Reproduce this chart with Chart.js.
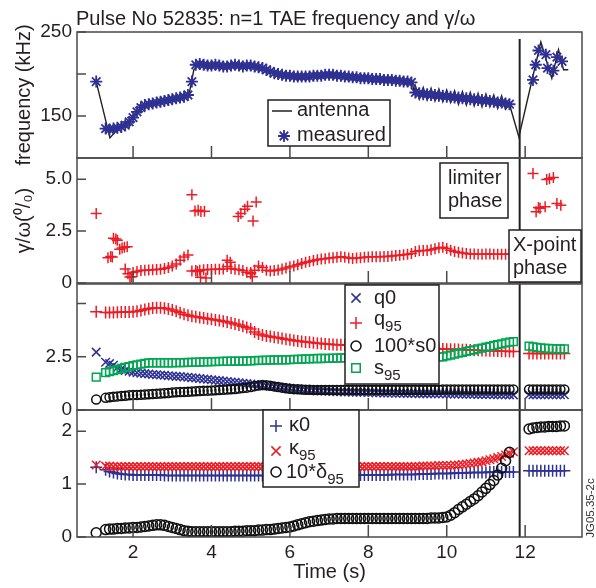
<!DOCTYPE html>
<html>
<head>
<meta charset="utf-8">
<script src="https://cdn.jsdelivr.net/npm/chart.js@4.4.1/dist/chart.umd.min.js"></script>
<style>
    html, body { margin: 0; padding: 0; background: #fff; }
    #wrap { position: relative; width: 596px; height: 588px; overflow: hidden; }
    #wrap canvas { position: absolute; left: 0; }
</style>
</head>
<body>
<div id="wrap">
    <canvas id="freqChart" width="596" height="175" style="top:0px"></canvas>
    <canvas id="gammaChart" width="596" height="160" style="top:140px"></canvas>
    <canvas id="qChart" width="596" height="162" style="top:266px"></canvas>
    <canvas id="kappaChart" width="596" height="196" style="top:392px"></canvas>
</div>
<script>
// ---- data ----
const timeTicks = [2, 4, 6, 8, 10, 12]
const phaseSplit = 11.86

const yTicksFreq = [150, 200, 250]
const yLabelsFreq = ['150', '', '250']
const yTicksGamma = [0, 2.5, 5]
const yLabelsGamma = ['0', '2.5', '5.0']
const yTicksQ = [0, 2.5, 5]
const yLabelsQ = ['0', '2.5', '']
const yTicksKappa = [0, 1, 2]
const yLabelsKappa = ['0', '1', '2']

// limiter phase time base (s)
const eqTime = [1.06, 1.3, 1.4, 1.5, 1.6, 1.7, 1.8, 1.9, 2.0, 2.1,
    2.2, 2.3, 2.4, 2.5, 2.6, 2.7, 2.8, 2.9, 3.0, 3.1,
    3.2, 3.3, 3.4, 3.5, 3.6, 3.7, 3.8, 3.9, 4.0, 4.1,
    4.2, 4.3, 4.4, 4.5, 4.6, 4.7, 4.8, 4.9, 5.0, 5.1,
    5.2, 5.3, 5.4, 5.5, 5.6, 5.7, 5.8, 5.9, 6.0, 6.1,
    6.2, 6.3, 6.4, 6.5, 6.6, 6.7, 6.8, 6.9, 7.0, 7.1,
    7.2, 7.3, 7.4, 7.5, 7.6, 7.7, 7.8, 7.9, 8.0, 8.1,
    8.2, 8.3, 8.4, 8.5, 8.6, 8.7, 8.8, 8.9, 9.0, 9.1,
    9.2, 9.3, 9.4, 9.5, 9.6, 9.7, 9.8, 9.9, 10.0, 10.1,
    10.2, 10.3, 10.4, 10.5, 10.6, 10.7, 10.8, 10.9, 11.0, 11.1,
    11.2, 11.3, 11.4, 11.5, 11.6, 11.7]
// X-point phase time base (s)
const xTime = [12.1, 12.2, 12.3, 12.4, 12.5, 12.6, 12.7, 12.8, 12.9, 13.0]

// TAE frequency (kHz)
const freqMeasured = [191, 135, 134, 135, 136, 137, 139, 143, 148, 155,
    160, 163, 164, 165, 166, 167, 168, 169, 170, 171,
    172, 173, 175, 191, 211, 212, 211, 210, 210, 211,
    210, 209, 209, 210, 211, 210, 209, 210, 210, 209,
    208, 207, 205, 203, 201, 200, 199, 198, 198, 197,
    197, 197, 197, 197, 198, 198, 198, 199, 199, 199,
    198, 198, 197, 197, 196, 196, 195, 195, 195, 194,
    194, 194, 193, 193, 193, 192, 192, 191, 191, 190,
    178, 177, 176, 176, 175, 175, 174, 174, 173, 173,
    172, 172, 171, 171, 170, 170, 169, 169, 168, 168,
    167, 166, 166, 165, 164, null]
const freqXTime = [12.2, 12.27, 12.34, 12.53, 12.57, 12.72, 12.81, 12.94]
const freqXMeasured = [193, 211, 228, 223, 207, 204, 220, 215]

const antennaTime = [1.06, 1.41, 1.6, 2.0, 2.3, 3.0, 3.42, 3.55, 3.7, 5.0, 5.6, 6.5, 7.5, 9.0, 9.12, 9.17,
    9.2, 9.3, 9.4, 9.5, 9.6, 9.7, 9.8, 9.9, 10.0, 10.1, 10.2, 10.3, 10.4, 10.5, 10.6, 10.7,
    10.8, 10.9, 11.0, 11.1, 11.2, 11.3, 11.4, 11.5, 11.6, 11.84, 12.4, 12.68, 12.85, 12.98, 13.1]
const antennaFreq = [191, 124, 134, 148, 162, 170, 174, 205, 212, 210, 200, 197, 196, 191, 190, 178,
    186, 170, 184, 169, 183, 168, 182, 167, 181, 166, 180, 164, 179, 163, 178, 162,
    177, 161, 176, 161, 175, 159, 174, 158, 164, 125, 238, 195, 229, 205, 205]

// gamma/omega (%)
const gammaTime = [2.0, 2.1, 2.2, 2.3, 2.4, 2.5, 2.6, 2.7, 2.8, 2.9,
    3.0, 3.1, 3.2, 3.3, 3.4, 3.5, 3.6, 3.7, 3.8, 3.9,
    4.0, 4.1, 4.2, 4.3, 4.4, 4.5, 4.6, 4.7, 4.8, 4.9,
    5.0, 5.1, 5.2, 5.3, 5.4, 5.5, 5.6, 5.7, 5.8, 5.9,
    6.0, 6.1, 6.2, 6.3, 6.4, 6.5, 6.6, 6.7, 6.8, 6.9,
    7.0, 7.1, 7.2, 7.3, 7.4, 7.5, 7.6, 7.7, 7.8, 7.9,
    8.0, 8.1, 8.2, 8.3, 8.4, 8.5, 8.6, 8.7, 8.8, 8.9,
    9.0, 9.1, 9.2, 9.3, 9.4, 9.5, 9.6, 9.7, 9.8, 9.9,
    10.0, 10.1, 10.2, 10.3, 10.4, 10.5, 10.6, 10.7, 10.8, 10.9,
    11.0, 11.1, 11.2, 11.3, 11.4, 11.5, 11.6, 11.7]
const gammaValue = [0.5, 0.55, 0.6, 0.62, 0.63, 0.64, 0.65, 0.66, 0.7, 0.75,
    0.82, 0.92, 1.1, 1.25, 1.35, 0.58, 0.6, 0.62, 0.64, 0.65,
    0.65, 0.66, 0.66, 0.68, 0.8, 0.7, 0.66, 0.64, 0.6, 0.52,
    0.5, 0.62, 0.82, 0.75, 0.62, 0.58, 0.6, 0.63, 0.68, 0.72,
    0.78, 0.82, 0.88, 0.94, 1.0, 1.04, 1.08, 1.12, 1.15, 1.17,
    1.2, 1.22, 1.24, 1.26, 1.24, 1.2, 1.18, 1.2, 1.22, 1.24,
    1.25, 1.26, 1.26, 1.27, 1.28, 1.28, 1.3, 1.32, 1.34, 1.36,
    1.38, 1.42, 1.52, 1.55, 1.57, 1.56, 1.6, 1.65, 1.7, 1.72,
    1.66, 1.58, 1.52, 1.48, 1.44, 1.42, 1.4, 1.4, 1.39, 1.39,
    1.4, 1.4, 1.39, 1.38, 1.39, 1.39, 1.4, 1.4]
const gammaScatterTime = [1.06, 1.36, 1.43, 1.47, 1.5, 1.56, 1.6, 1.66, 1.72, 1.78, 1.85, 1.8, 1.87, 1.92, 1.96,
    3.5, 3.58, 3.66, 3.73, 3.82, 3.64, 3.72, 3.86, 4.4, 4.48,
    4.68, 4.75, 4.85, 4.92, 5.14, 5.06, 5.04, 5.0,
    12.2, 12.55, 12.62, 12.72, 12.28, 12.34, 12.38, 12.51, 12.81, 12.91]
const gammaScatterValue = [3.35, 1.22, 1.28, 1.25, 2.15, 2.12, 2.06, 1.62, 1.68, 1.72, 1.75, 0.68, 0.45, 0.29, 0.3,
    4.25, 3.47, 3.5, 3.44, 3.45, 0.55, 0.28, 0.24, 1.1, 1.0,
    3.2, 3.35, 3.55, 3.7, 3.9, 2.98, 0.3, 0.45,
    5.27, 4.98, 5.02, 5.08, 3.43, 3.64, 3.6, 3.67, 3.83, 3.75]

// safety factor and shear
const q0 = [2.72, 2.24, 2.18, 2.1, 2.0, 1.92, 1.86, 1.82, 1.78, 1.75,
    1.73, 1.71, 1.69, 1.67, 1.66, 1.64, 1.63, 1.61, 1.6, 1.58,
    1.57, 1.55, 1.54, 1.52, 1.5, 1.48, 1.46, 1.44, 1.42, 1.4,
    1.38, 1.36, 1.34, 1.32, 1.3, 1.28, 1.26, 1.24, 1.22, 1.2,
    1.18, 1.16, 1.14, 1.12, 1.1, 1.08, 1.06, 1.04, 1.02, 1.0,
    0.98, 0.96, 0.94, 0.93, 0.92, 0.91, 0.9, 0.89, 0.88, 0.87,
    0.86, 0.86, 0.85, 0.85, 0.84, 0.84, 0.83, 0.83, 0.82, 0.82,
    0.81, 0.81, 0.8, 0.8, 0.8, 0.79, 0.79, 0.79, 0.78, 0.78,
    0.78, 0.77, 0.77, 0.77, 0.76, 0.76, 0.76, 0.76, 0.75, 0.75,
    0.75, 0.75, 0.74, 0.74, 0.74, 0.74, 0.73, 0.73, 0.73, 0.73,
    0.72, 0.72, 0.72, 0.72, 0.71, 0.71]
const q95 = [4.62, 4.58, 4.58, 4.58, 4.59, 4.6, 4.6, 4.61, 4.62, 4.64,
    4.68, 4.72, 4.76, 4.79, 4.81, 4.8, 4.78, 4.75, 4.7, 4.64,
    4.57, 4.5, 4.45, 4.41, 4.38, 4.35, 4.32, 4.29, 4.26, 4.23,
    4.2, 4.17, 4.14, 4.09, 4.04, 3.99, 3.94, 3.88, 3.8, 3.66,
    3.57, 3.52, 3.48, 3.45, 3.42, 3.39, 3.36, 3.33, 3.3, 3.27,
    3.24, 3.22, 3.2, 3.18, 3.16, 3.14, 3.12, 3.1, 3.09, 3.08,
    3.07, 3.06, 3.05, 3.04, 3.03, 3.03, 3.02, 3.02, 3.01, 3.0,
    3.0, 2.99, 2.99, 2.98, 2.97, 2.97, 2.96, 2.95, 2.94, 2.94,
    2.93, 2.92, 2.91, 2.9, 2.9, 2.89, 2.88, 2.87, 2.86, 2.86,
    2.85, 2.84, 2.83, 2.83, 2.82, 2.81, 2.81, 2.8, 2.79, 2.78,
    2.78, 2.77, 2.76, 2.76, 2.75, 2.75]
const s0x100 = [0.49, 0.57, 0.6, 0.62, 0.64, 0.66, 0.67, 0.69, 0.7, 0.71,
    0.72, 0.73, 0.74, 0.75, 0.76, 0.77, 0.79, 0.8, 0.82, 0.83,
    0.84, 0.85, 0.86, 0.87, 0.88, 0.89, 0.9, 0.91, 0.92, 0.93,
    0.94, 0.95, 0.96, 0.97, 0.99, 1.01, 1.03, 1.05, 1.08, 1.12,
    1.15, 1.17, 1.16, 1.14, 1.11, 1.08, 1.05, 1.02, 1.0, 0.98,
    0.97, 0.96, 0.95, 0.95, 0.94, 0.94, 0.94, 0.94, 0.94, 0.94,
    0.94, 0.94, 0.95, 0.95, 0.95, 0.95, 0.95, 0.95, 0.95, 0.95,
    0.95, 0.95, 0.95, 0.95, 0.95, 0.95, 0.95, 0.95, 0.95, 0.95,
    0.95, 0.95, 0.95, 0.95, 0.95, 0.95, 0.95, 0.96, 0.96, 0.96,
    0.96, 0.96, 0.96, 0.96, 0.96, 0.96, 0.96, 0.96, 0.96, 0.96,
    0.96, 0.96, 0.96, 0.96, 0.96, 0.96]
const s95 = [1.54, 1.76, 1.8, 1.85, 1.9, 1.95, 2.0, 2.04, 2.08, 2.12,
    2.16, 2.19, 2.21, 2.22, 2.22, 2.22, 2.22, 2.22, 2.22, 2.23,
    2.23, 2.23, 2.24, 2.24, 2.25, 2.25, 2.26, 2.26, 2.27, 2.27,
    2.28, 2.28, 2.29, 2.29, 2.3, 2.3, 2.3, 2.31, 2.31, 2.32,
    2.33, 2.33, 2.34, 2.34, 2.35, 2.35, 2.36, 2.36, 2.37, 2.38,
    2.38, 2.39, 2.4, 2.4, 2.41, 2.42, 2.42, 2.43, 2.43, 2.44,
    2.44, 2.45, 2.45, 2.45, 2.46, 2.46, 2.46, 2.46, 2.47, 2.47,
    2.47, 2.47, 2.48, 2.48, 2.48, 2.48, 2.49, 2.49, 2.49, 2.49,
    2.49, 2.49, 2.5, 2.5, 2.5, 2.5, 2.5, 2.5, 2.54, 2.58,
    2.63, 2.67, 2.71, 2.75, 2.79, 2.83, 2.87, 2.91, 2.95, 2.99,
    3.03, 3.07, 3.11, 3.15, 3.19, 3.21]
const q0X = [0.72, 0.72, 0.72, 0.72, 0.72, 0.72, 0.72, 0.72, 0.72, 0.72]
const q95X = [2.66, 2.66, 2.66, 2.66, 2.66, 2.66, 2.66, 2.66, 2.66, 2.66]
const s0x100X = [0.96, 0.96, 0.96, 0.96, 0.96, 0.96, 0.96, 0.96, 0.96, 0.96]
const s95X = [3.0, 2.97, 2.94, 2.92, 2.9, 2.89, 2.88, 2.87, 2.87, 2.87]

// elongation and triangularity
const kappa0 = [1.32, 1.27, 1.24, 1.22, 1.2, 1.19, 1.18, 1.18, 1.17, 1.17,
    1.17, 1.17, 1.17, 1.17, 1.17, 1.17, 1.16, 1.16, 1.16, 1.16,
    1.16, 1.16, 1.16, 1.16, 1.16, 1.16, 1.16, 1.16, 1.16, 1.16,
    1.16, 1.16, 1.16, 1.16, 1.16, 1.16, 1.16, 1.16, 1.16, 1.16,
    1.16, 1.16, 1.16, 1.16, 1.16, 1.16, 1.16, 1.16, 1.16, 1.16,
    1.16, 1.16, 1.16, 1.16, 1.16, 1.16, 1.16, 1.16, 1.16, 1.16,
    1.16, 1.16, 1.17, 1.17, 1.17, 1.17, 1.17, 1.17, 1.17, 1.17,
    1.17, 1.17, 1.17, 1.17, 1.18, 1.18, 1.18, 1.18, 1.18, 1.18,
    1.18, 1.19, 1.19, 1.19, 1.19, 1.2, 1.2, 1.2, 1.2, 1.2,
    1.21, 1.21, 1.21, 1.21, 1.22, 1.22, 1.22, 1.22, 1.22, 1.23,
    1.23, 1.23, 1.23, 1.23, 1.23, 1.23]
const kappa95 = [1.36, 1.34, 1.34, 1.33, 1.33, 1.33, 1.33, 1.33, 1.33, 1.33,
    1.33, 1.33, 1.33, 1.33, 1.33, 1.33, 1.33, 1.33, 1.33, 1.33,
    1.33, 1.33, 1.33, 1.33, 1.33, 1.33, 1.33, 1.33, 1.33, 1.33,
    1.33, 1.33, 1.33, 1.33, 1.33, 1.33, 1.33, 1.33, 1.33, 1.33,
    1.33, 1.33, 1.33, 1.33, 1.33, 1.33, 1.33, 1.33, 1.33, 1.33,
    1.33, 1.33, 1.33, 1.33, 1.33, 1.33, 1.33, 1.33, 1.33, 1.33,
    1.33, 1.33, 1.33, 1.33, 1.33, 1.33, 1.33, 1.33, 1.33, 1.33,
    1.33, 1.33, 1.33, 1.33, 1.33, 1.33, 1.33, 1.33, 1.33, 1.33,
    1.33, 1.33, 1.34, 1.34, 1.34, 1.34, 1.35, 1.35, 1.35, 1.35,
    1.36, 1.36, 1.37, 1.38, 1.39, 1.4, 1.41, 1.42, 1.44, 1.46,
    1.48, 1.5, 1.52, 1.55, 1.58, 1.61]
const delta95x10 = [0.08, 0.14, 0.15, 0.15, 0.16, 0.16, 0.17, 0.17, 0.18, 0.18,
    0.19, 0.2, 0.21, 0.22, 0.23, 0.23, 0.22, 0.2, 0.18, 0.16,
    0.14, 0.12, 0.11, 0.1, 0.1, 0.1, 0.1, 0.1, 0.1, 0.1,
    0.1, 0.1, 0.1, 0.1, 0.11, 0.11, 0.11, 0.12, 0.12, 0.12,
    0.13, 0.13, 0.14, 0.14, 0.15, 0.16, 0.17, 0.18, 0.19, 0.21,
    0.23, 0.25, 0.27, 0.29, 0.3, 0.31, 0.32, 0.33, 0.34, 0.34,
    0.35, 0.35, 0.35, 0.35, 0.35, 0.35, 0.35, 0.35, 0.35, 0.35,
    0.35, 0.35, 0.35, 0.35, 0.35, 0.35, 0.35, 0.35, 0.35, 0.35,
    0.35, 0.35, 0.35, 0.35, 0.36, 0.36, 0.36, 0.37, 0.38, 0.41,
    0.46, 0.52, 0.57, 0.62, 0.67, 0.72, 0.78, 0.85, 0.92, 0.99,
    1.07, 1.17, 1.3, 1.44, 1.6, null]
const kappa0X = [1.25, 1.25, 1.25, 1.25, 1.25, 1.25, 1.25, 1.25, 1.25, 1.25]
const kappa95X = [1.63, 1.63, 1.63, 1.63, 1.63, 1.63, 1.63, 1.63, 1.63, 1.63]
const delta95x10X = [2.04, 2.06, 2.07, 2.08, 2.08, 2.09, 2.09, 2.09, 2.1, 2.1]

// ---- styling ----
const FONT = '"Liberation Sans", Arial, Helvetica, sans-serif'
const INK = '#231f20'
const FRAME = '#4a4a4a'
const BLUE = '#2e3192'
const RED = '#ed1c24'
const GREEN = '#00a651'
const T_MIN = 0.57
const T_MAX = 13.45

Chart.defaults.font.family = FONT
Chart.defaults.color = INK

function pairs(xs, ys) {
    return xs.map((x, i) => ({ x: x, y: ys[i] }))
}
function marks(data, style, color, r, lw) {
    return {
        data: data,
        showLine: false,
        pointStyle: style,
        pointRadius: r,
        pointHoverRadius: r,
        borderColor: color,
        backgroundColor: 'rgba(0,0,0,0)',
        pointBorderWidth: lw,
        borderWidth: lw
    }
}
function drawMark(ctx, style, x, y, r, color, lw) {
    ctx.save()
    ctx.strokeStyle = color
    ctx.lineWidth = lw
    ctx.beginPath()
    if (style === 'cross' || style === 'star') {
        ctx.moveTo(x - r, y); ctx.lineTo(x + r, y)
        ctx.moveTo(x, y - r); ctx.lineTo(x, y + r)
    }
    if (style === 'crossRot' || style === 'star') {
        const d = r * Math.SQRT1_2
        ctx.moveTo(x - d, y - d); ctx.lineTo(x + d, y + d)
        ctx.moveTo(x - d, y + d); ctx.lineTo(x + d, y - d)
    }
    if (style === 'circle') ctx.arc(x, y, r, 0, Math.PI * 2)
    if (style === 'rect') {
        const s = r * Math.SQRT1_2
        ctx.rect(x - s, y - s, 2 * s, 2 * s)
    }
    ctx.stroke()
    ctx.restore()
}
function box(ctx, x0, y0, x1, y1) {
    ctx.fillStyle = '#fff'
    ctx.fillRect(x0, y0, x1 - x0, y1 - y0)
    ctx.strokeStyle = INK
    ctx.lineWidth = 1.5
    ctx.strokeRect(x0, y0, x1 - x0, y1 - y0)
}
function text(ctx, s, x, y, size) {
    ctx.fillStyle = INK
    ctx.font = (size || 20) + 'px ' + FONT
    ctx.textAlign = 'left'
    ctx.textBaseline = 'alphabetic'
    ctx.fillText(s, x, y)
}
function subText(ctx, main, sub, x, y, drop) {
    text(ctx, main, x, y, 20)
    const w = ctx.measureText(main).width
    text(ctx, sub, x + w, y + drop, 15)
}

// frame, inward ticks, phase split line and per-panel extras
function decor(name, pageTop, splitFrom, extra) {
    return {
        id: name,
        afterDatasetsDraw(chart) {
            const { ctx, chartArea: { left, right, top, bottom }, scales: { x, y } } = chart
            ctx.save()
            const xs = x.getPixelForValue(phaseSplit)
            ctx.strokeStyle = INK
            ctx.lineWidth = 2
            ctx.beginPath()
            ctx.moveTo(xs, splitFrom == null ? top : splitFrom - pageTop)
            ctx.lineTo(xs, bottom)
            ctx.stroke()

            ctx.strokeStyle = FRAME
            ctx.lineWidth = 1.5
            ctx.strokeRect(left, top, right - left, bottom - top)
            ctx.beginPath()
            y.ticks.forEach(t => {
                const py = y.getPixelForValue(t.value)
                ctx.moveTo(left, py); ctx.lineTo(left + 9, py)
            })
            timeTicks.forEach(v => {
                const px = x.getPixelForValue(v)
                ctx.moveTo(px, bottom); ctx.lineTo(px, bottom - 12)
            })
            ctx.stroke()

            ctx.translate(0, -pageTop)
            if (extra) extra(ctx)
            ctx.restore()
        }
    }
}

function makePanel(id, cfg) {
    const xAxis = {
        type: 'linear', min: T_MIN, max: T_MAX, display: !!cfg.showX,
        grid: { display: false, drawTicks: false },
        border: { display: false },
        afterBuildTicks: s => { s.ticks = timeTicks.map(v => ({ value: v })) },
        ticks: { padding: 4, maxRotation: 0, autoSkip: false, color: INK, font: { family: FONT, size: 19 } },
        title: { display: !!cfg.showX, text: 'Time (s)', color: INK, font: { family: FONT, size: 20 }, padding: { top: 0, bottom: 4 } }
    }
    if (cfg.showX) xAxis.afterFit = s => { s.height = 51 }
    const yAxis = {
        type: 'linear', min: cfg.yMin, max: cfg.yMax,
        grid: { display: false, drawTicks: false },
        border: { display: false },
        afterFit: s => { s.width = 77 },
        afterBuildTicks: s => { s.ticks = cfg.yTicks.map(v => ({ value: v })) },
        ticks: {
            padding: 5, color: INK, font: { family: FONT, size: 19 },
            callback: (v, i) => cfg.yLabels[i]
        },
        title: cfg.yTitle
            ? { display: true, text: cfg.yTitle, color: INK, font: { family: FONT, size: 20 }, padding: { top: 12, bottom: 0 } }
            : { display: false }
    }
    // config
    const config = {
        type: 'scatter',
        data: { datasets: cfg.datasets },
        options: {
            responsive: false,
            animation: false,
            events: [],
            layout: { padding: { left: 0, right: 14, top: cfg.padTop, bottom: cfg.padBottom } },
            plugins: { legend: { display: false }, tooltip: { enabled: false } },
            scales: { x: xAxis, y: yAxis }
        },
        plugins: [decor('decor_' + id, cfg.pageTop, cfg.splitFrom, cfg.extra)]
    }
    return new Chart(document.getElementById(id), config)
}

// frequency panel
makePanel('freqChart', {
    pageTop: 0, padTop: 32, padBottom: 17, splitFrom: 39,
    yMin: 100, yMax: 250, yTicks: yTicksFreq, yLabels: yLabelsFreq,
    yTitle: 'frequency (kHz)',
    datasets: [
        marks(pairs(eqTime, freqMeasured).concat(pairs(freqXTime, freqXMeasured)), 'star', BLUE, 6, 1.8),
        {
            data: pairs(antennaTime, antennaFreq), showLine: true, pointRadius: 0,
            borderColor: INK, borderWidth: 1.4, tension: 0
        }
    ],
    extra: ctx => {
        text(ctx, 'Pulse No 52835: n=1 TAE frequency and \u03b3/\u03c9', 76, 25, 20)
        box(ctx, 268, 100, 390, 146)
        ctx.strokeStyle = INK
        ctx.lineWidth = 1.5
        ctx.beginPath(); ctx.moveTo(272, 111); ctx.lineTo(292, 111); ctx.stroke()
        text(ctx, 'antenna', 297, 116)
        drawMark(ctx, 'star', 284, 136, 6, BLUE, 1.8)
        text(ctx, 'measured', 297, 141)
    }
})

// growth rate panel
makePanel('gammaChart', {
    pageTop: 140, padTop: 18, padBottom: 17, splitFrom: null,
    yMin: 0, yMax: 6.02, yTicks: yTicksGamma, yLabels: yLabelsGamma,
    yTitle: '\u03b3/\u03c9(\u2070/\u2080)',
    datasets: [
        marks(pairs(gammaTime, gammaValue).concat(pairs(gammaScatterTime, gammaScatterValue)), 'cross', RED, 5.5, 1.5)
    ],
    extra: ctx => {
        box(ctx, 440, 163, 508, 218)
        text(ctx, 'limiter', 448, 184)
        text(ctx, 'phase', 448, 207)
        box(ctx, 509, 230, 581, 282)
        text(ctx, 'X-point', 513, 251)
        text(ctx, 'phase', 513, 274)
    }
})

// q / shear panel
makePanel('qChart', {
    pageTop: 266, padTop: 18, padBottom: 18, splitFrom: null,
    yMin: 0, yMax: 5.92, yTicks: yTicksQ, yLabels: yLabelsQ,
    datasets: [
        marks(pairs(eqTime, s0x100).concat(pairs(xTime, s0x100X)), 'circle', '#111', 4.5, 1.5),
        marks(pairs(eqTime, s95).concat(pairs(xTime, s95X)), 'rect', GREEN, 5.5, 1.5),
        marks(pairs(eqTime, q95).concat(pairs(xTime, q95X)), 'cross', RED, 6, 1.5),
        marks(pairs(eqTime, q0).concat(pairs(xTime, q0X)), 'crossRot', BLUE, 6, 1.5)
    ],
    extra: ctx => {
        box(ctx, 345, 285, 439, 384)
        drawMark(ctx, 'crossRot', 356, 298, 6.5, BLUE, 1.5)
        text(ctx, 'q0', 374, 304)
        drawMark(ctx, 'cross', 356, 323, 6, RED, 1.5)
        subText(ctx, 'q', '95', 374, 325, 6)
        drawMark(ctx, 'circle', 356, 346, 5, '#111', 1.5)
        text(ctx, '100*s0', 374, 352)
        drawMark(ctx, 'rect', 356, 368, 6, GREEN, 1.5)
        subText(ctx, 's', '95', 374, 374, 6)
    }
})

// shaping panel
makePanel('kappaChart', {
    pageTop: 392, padTop: 18, padBottom: 0, splitFrom: null, showX: true,
    yMin: 0, yMax: 2.4, yTicks: yTicksKappa, yLabels: yLabelsKappa,
    datasets: [
        marks(pairs(eqTime, delta95x10).concat(pairs(xTime, delta95x10X)), 'circle', '#111', 5, 1.5),
        marks(pairs(eqTime, kappa95).concat(pairs(xTime, kappa95X)), 'crossRot', RED, 6, 1.5),
        marks(pairs(eqTime, kappa0).concat(pairs(xTime, kappa0X)), 'cross', BLUE, 6, 1.5)
    ],
    extra: ctx => {
        box(ctx, 263, 410, 359, 487)
        drawMark(ctx, 'cross', 276, 426, 6, BLUE, 1.5)
        text(ctx, '\u03ba0', 289, 431)
        drawMark(ctx, 'crossRot', 276, 451, 6.5, RED, 1.5)
        subText(ctx, '\u03ba', '95', 289, 454, 6)
        drawMark(ctx, 'circle', 276, 472, 5, '#111', 1.5)
        subText(ctx, '10*\u03b4', '95', 286, 478, 6)
        ctx.save()
        ctx.translate(594, 508)
        ctx.rotate(-Math.PI / 2)
        ctx.fillStyle = '#333'
        ctx.font = '11.5px ' + FONT
        ctx.textAlign = 'center'
        ctx.textBaseline = 'alphabetic'
        ctx.fillText('JG05.35-2c', 0, 0)
        ctx.restore()
    }
})
</script>
</body>
</html>
